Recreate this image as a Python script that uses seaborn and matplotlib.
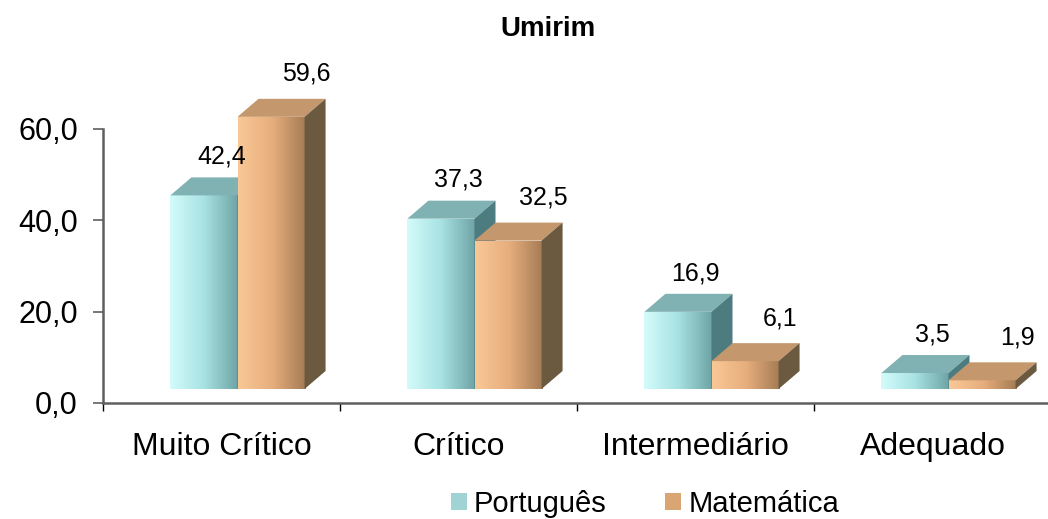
import numpy as np
import pandas as pd
import matplotlib
matplotlib.use("Agg")
import matplotlib.pyplot as plt
import matplotlib.transforms as mtransforms
from matplotlib.colors import LinearSegmentedColormap
from matplotlib.patches import Polygon, Patch
from matplotlib.ticker import FixedLocator, FuncFormatter
import seaborn as sns

# --- data -------------------------------------------------------------
title = "Umirim"
categories = ["Muito Crítico", "Crítico", "Intermediário", "Adequado"]
series_names = ["Português", "Matemática"]
portugues = [42.4, 37.3, 16.9, 3.5]
matematica = [59.6, 32.5, 6.1, 1.9]
y_ticks = [0, 20, 40, 60]

df = pd.DataFrame({
    "categoria": categories * 2,
    "valor": portugues + matematica,
    "disciplina": [series_names[0]] * len(categories) + [series_names[1]] * len(categories),
})

# --- style ------------------------------------------------------------
sns.set_theme(style="white")
plt.rcParams["font.family"] = ["Liberation Sans", "DejaVu Sans"]
plt.rcParams["text.color"] = "#000000"
plt.rcParams["xtick.color"] = "#000000"
plt.rcParams["ytick.color"] = "#000000"

styles = {
    "Português": dict(front=["#d4fbfb", "#a9e2e2", "#6ea4a6"], top="#80b1b3",
                      side="#4c7c80", legend="#9fd3d4", label_off=(24, 38)),
    "Matemática": dict(front=["#f9c896", "#e7ae7d", "#a47b55"], top="#c4976c",
                       side="#6b5940", legend="#d9a673", label_off=(37, 41)),
}
FRONT_SHIFT = (0.16, 0.14)   # inches: bars sit slightly back on the floor
DEPTH = (0.21, 0.18)         # inches: receding depth of each column
SPINE = "#5f5f5f"

fig = plt.figure(figsize=(10.48, 5.19), dpi=100)
ax = fig.add_axes([103 / 1048, 1 - 403 / 519, 948 / 1048, 274 / 519])

sns.barplot(data=df, x="categoria", y="valor", hue="disciplina",
            order=categories, hue_order=series_names,
            palette=[styles[s]["legend"] for s in series_names],
            width=0.566, gap=0, legend=False, ax=ax, saturation=1)

ax.set_xlim(-0.5, 3.5)
ax.set_ylim(0, 60)
fig.canvas.draw()

# data units per inch, for the 3D depth faces
x0d, y0d = ax.transData.inverted().transform((0, 0))
x1d, y1d = ax.transData.inverted().transform((fig.dpi, fig.dpi))
ux, uy = x1d - x0d, y1d - y0d
ddx, ddy = DEPTH[0] * ux, DEPTH[1] * uy

shift = mtransforms.ScaledTranslation(FRONT_SHIFT[0], FRONT_SHIFT[1], fig.dpi_scale_trans)
tr = ax.transData + shift

grad = np.linspace(0, 1, 256).reshape(1, -1)
for k, (name, container) in enumerate(zip(series_names, ax.containers)):
    st = styles[name]
    cmap = LinearSegmentedColormap.from_list(name, st["front"])
    z = 3 + 3 * k
    for bar in container:
        x0 = bar.get_x()
        x1 = x0 + bar.get_width()
        h = bar.get_height()
        bar.set_transform(tr)
        bar.set_clip_on(False)
        bar.set_edgecolor("none")
        bar.set_zorder(z)
        im = ax.imshow(grad, cmap=cmap, aspect="auto", extent=[x0, x1, 0, h],
                       zorder=z + 0.1, interpolation="bilinear")
        im.set_transform(tr)
        im.set_clip_on(True)
        im.set_clip_path(bar)
        top = Polygon([(x0, h), (x1, h), (x1 + ddx, h + ddy), (x0 + ddx, h + ddy)],
                      closed=True, facecolor=st["top"], edgecolor="none",
                      transform=tr, clip_on=False, zorder=z + 0.2)
        side = Polygon([(x1, 0), (x1 + ddx, ddy), (x1 + ddx, h + ddy), (x1, h)],
                       closed=True, facecolor=st["side"], edgecolor="none",
                       transform=tr, clip_on=False, zorder=z + 0.2)
        ax.add_patch(top)
        ax.add_patch(side)
        ax.annotate(f"{h:.1f}".replace(".", ","), xy=(x0 + (x1 - x0) / 2, h),
                    xytext=st["label_off"], textcoords="offset points",
                    ha="center", va="center", fontsize=18, color="#000000",
                    annotation_clip=False, zorder=20)

ax.set_xlim(-0.5, 3.5)
ax.set_ylim(0, 60)

# --- axes -------------------------------------------------------------
for s in ["top", "right"]:
    ax.spines[s].set_visible(False)
for s in ["left", "bottom"]:
    ax.spines[s].set_color(SPINE)
    ax.spines[s].set_linewidth(1.8)
    ax.spines[s].set_zorder(1)

ax.yaxis.set_major_locator(FixedLocator(y_ticks))
ax.yaxis.set_major_formatter(FuncFormatter(lambda v, p: f"{v:.1f}".replace(".", ",")))
ax.tick_params(axis="y", which="major", direction="out", length=7, width=1.2,
               color=SPINE, labelsize=22, labelcolor="#000000", pad=11, left=True)
ax.set_xticks(range(len(categories)))
ax.set_xticklabels(categories)
ax.set_xticks(np.arange(len(categories) + 1) - 0.5, minor=True)
ax.tick_params(axis="x", which="major", length=0, labelsize=23,
               labelcolor="#000000", pad=21)
ax.tick_params(axis="x", which="minor", direction="out", length=6, width=1,
               color="#000000", bottom=True)
ax.set_xlabel("")
ax.set_ylabel("")
ax.grid(False)

fig.text(548 / 1048, 1 - 29 / 519, title, ha="center", va="center",
         fontsize=20, fontweight="bold", color="#000000")

handles = [Patch(facecolor=styles[s]["legend"], edgecolor="none", label=s)
           for s in series_names]
leg = fig.legend(handles=handles, loc="center", bbox_to_anchor=(645 / 1048, 1 - 504 / 519),
                 ncol=2, frameon=False, fontsize=21, handlelength=0.55, handleheight=0.55,
                 handletextpad=0.25, columnspacing=2.0, borderpad=0)
for t in leg.get_texts():
    t.set_color("#000000")

fig.savefig("out.png", dpi=100, facecolor="white")
